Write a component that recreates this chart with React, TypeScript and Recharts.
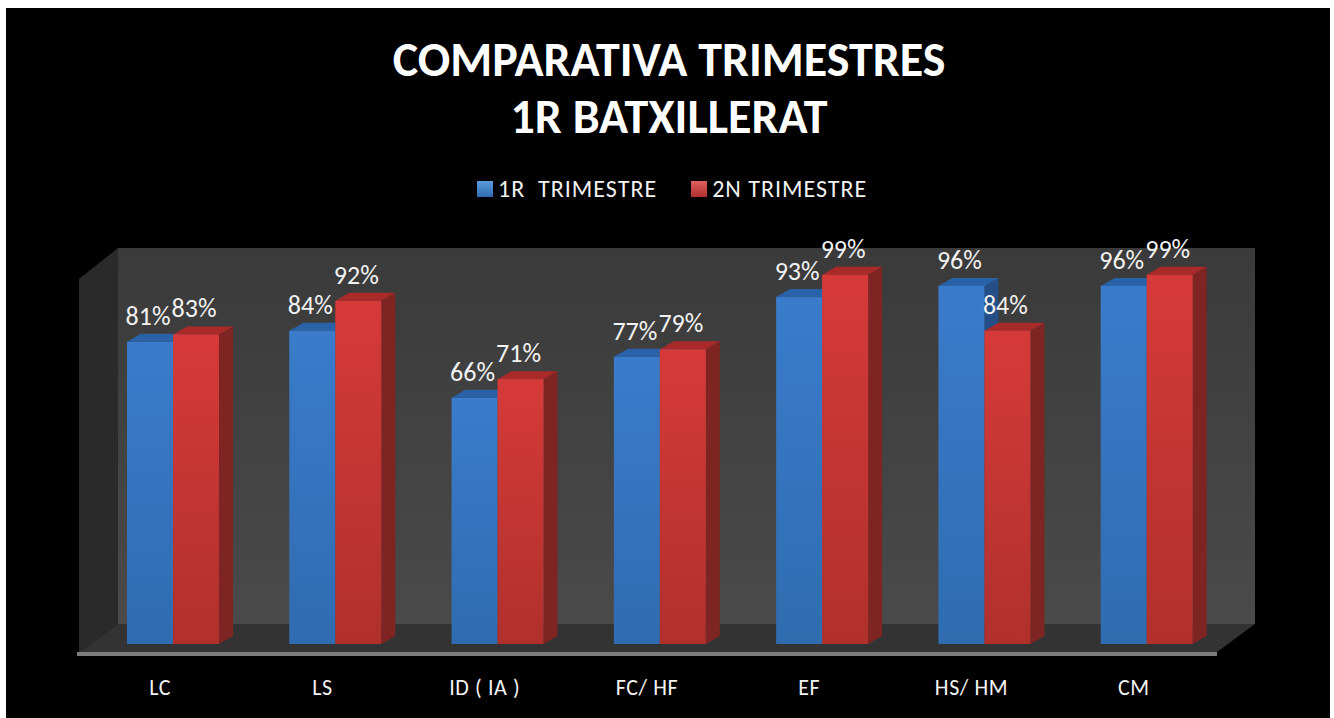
import React from "react";
import { BarChart, Bar, XAxis, YAxis, LabelList } from "recharts";

const categories = ["LC", "LS", "ID ( IA )", "FC/ HF", "EF", "HS/ HM", "CM"];
const trimestre1 = [81, 84, 66, 77, 93, 96, 96];
const trimestre2 = [83, 92, 71, 79, 99, 84, 99];
const seriesNames = ["1R  TRIMESTRE", "2N TRIMESTRE"];
const titleLines = ["COMPARATIVA TRIMESTRES", "1R BATXILLERAT"];

const chartData = categories.map((name, i) => ({
  name,
  t1: trimestre1[i],
  t2: trimestre2[i],
}));

const FONT = "Carlito, Lato, 'Open Sans', sans-serif";
const DEPTH_X = 14;
const DEPTH_Y = 8;

// front, top and side faces of one pseudo 3D column
const make3DBar = (gradId: string, topColor: string, sideColor: string) => (props: any) => {
  const { x, y, width, height } = props;
  const top = `${x},${y} ${x + DEPTH_X},${y - DEPTH_Y} ${x + width + DEPTH_X},${y - DEPTH_Y} ${x + width},${y}`;
  const side = `${x + width},${y} ${x + width + DEPTH_X},${y - DEPTH_Y} ${x + width + DEPTH_X},${y + height - DEPTH_Y} ${x + width},${y + height}`;
  return (
    <g>
      <polygon points={side} fill={sideColor} />
      <polygon points={top} fill={topColor} />
      <rect x={x} y={y} width={width} height={height} fill={`url(#${gradId})`} />
    </g>
  );
};

const BarLabel = (props: any) => {
  const { x, y, width, value } = props;
  return (
    <text
      x={x + width / 2 - 2}
      y={y - 26}
      fill="#f2f2f2"
      fontSize={26}
      fontFamily={FONT}
      textAnchor="middle"
      dominantBaseline="central"
    >
      {value}%
    </text>
  );
};

const CategoryTick = (props: any) => {
  const { x, y, payload } = props;
  return (
    <text x={x - 13} y={y + 35} fill="#f2f2f2" fontSize={22} letterSpacing={0.6} fontFamily={FONT} textAnchor="middle" dominantBaseline="central">
      {payload.value}
    </text>
  );
};

// back wall, side wall and floor of the 3D box
const Box3D = () => (
  <g>
    <polygon points="79,279 118,248 118,624 79,652" fill="#2a2a2a" />
    <polygon points="118,248 1255,248 1255,624 118,624" fill="url(#wallGrad)" />
    <polygon points="79,652 118,624 1255,624 1217,652" fill="#333333" />
    <polygon points="77,652 1217,652 1217,656 77,656" fill="#7c7c7c" />
  </g>
);

const LegendItem = ({ label, gradId }: { label: string; gradId: string }) => (
  <span style={{ display: "inline-flex", alignItems: "center", gap: 5 }}>
    <svg width={16} height={16}>
      <rect width={16} height={16} fill={`url(#${gradId})`} />
    </svg>
    {label}
  </span>
);

export default function App() {
  return (
    <div style={{ position: "fixed", left: 0, top: 0, width: 1334, height: 718, background: "#fff", overflow: "hidden", fontFamily: FONT }}>
      <div style={{ position: "absolute", left: 6, top: 8, width: 1324, height: 710, background: "#000" }} />
      <div style={{ position: "absolute", left: 0, width: 1338, top: 31, textAlign: "center", color: "#fff", fontWeight: 700, fontSize: 48, lineHeight: "57px" }}>
        {titleLines.map((t) => (
          <div key={t}>{t}</div>
        ))}
      </div>
      <div style={{ position: "absolute", left: 477, top: 174, display: "flex", gap: 34, color: "#f2f2f2", fontSize: 24, lineHeight: "30px", letterSpacing: 1, whiteSpace: "pre" }}>
        <LegendItem label={seriesNames[0]} gradId="legendBlue" />
        <LegendItem label={seriesNames[1]} gradId="legendRed" />
      </div>
      <svg width={0} height={0} style={{ position: "absolute" }}>
        <defs>
          <linearGradient id="legendBlue" x1="0" y1="0" x2="0" y2="1">
            <stop offset="0%" stopColor="#5b9bdc" />
            <stop offset="100%" stopColor="#2f6db0" />
          </linearGradient>
          <linearGradient id="legendRed" x1="0" y1="0" x2="0" y2="1">
            <stop offset="0%" stopColor="#e06060" />
            <stop offset="100%" stopColor="#b03030" />
          </linearGradient>
        </defs>
      </svg>
      <BarChart
        width={1334}
        height={718}
        data={chartData}
        margin={{ top: 271, right: 106, bottom: 0, left: 92 }}
        barGap={0}
        barCategoryGap={35}
        style={{ position: "absolute", left: 0, top: 0 }}
      >
        <defs>
          <linearGradient id="wallGrad" x1="0" y1="0" x2="0" y2="1">
            <stop offset="0%" stopColor="#3a3a3a" />
            <stop offset="100%" stopColor="#4a4a4a" />
          </linearGradient>
          <linearGradient id="blueFront" x1="0" y1="0" x2="0" y2="1">
            <stop offset="0%" stopColor="#3a7ccb" />
            <stop offset="100%" stopColor="#2f6cb0" />
          </linearGradient>
          <linearGradient id="redFront" x1="0" y1="0" x2="0" y2="1">
            <stop offset="0%" stopColor="#d63a38" />
            <stop offset="100%" stopColor="#b0302c" />
          </linearGradient>
        </defs>
        <Box3D />
        <XAxis dataKey="name" axisLine={false} tickLine={false} tick={<CategoryTick />} interval={0} height={74} />
        <YAxis hide domain={[0, 100]} />
        <Bar dataKey="t1" name={seriesNames[0]} isAnimationActive={false} shape={make3DBar("blueFront", "#2a62a8", "#244f86")}>
          <LabelList dataKey="t1" content={<BarLabel />} />
        </Bar>
        <Bar dataKey="t2" name={seriesNames[1]} isAnimationActive={false} shape={make3DBar("redFront", "#a92a28", "#7e2523")}>
          <LabelList dataKey="t2" content={<BarLabel />} />
        </Bar>
      </BarChart>
    </div>
  );
}
